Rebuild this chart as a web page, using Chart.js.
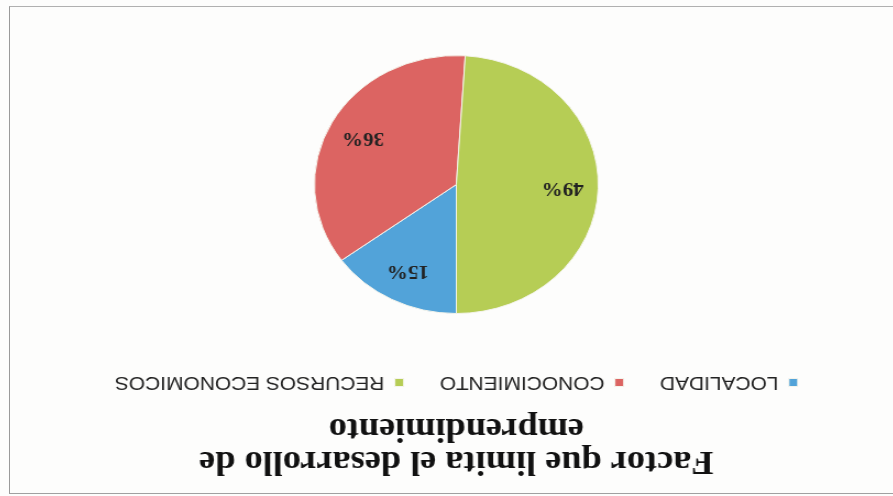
<!DOCTYPE html>
<html>
<head>
<meta charset="utf-8">
<script src="https://cdn.jsdelivr.net/npm/chart.js@4"></script>
<style>
  body { margin: 0; background: #fdfdfc; }
  #page { position: relative; width: 893px; height: 496px; overflow: hidden; }
  #frame {
    position: absolute; left: 9px; top: 6px; width: 900px; height: 486px;
    border-left: 1px solid #9a9a9a; border-top: 1px solid #b0b0b0; border-bottom: 1px solid #a0a0a0;
  }
  /* the scanned chart is upside down and a bit stretched */
  #factorChart {
    position: absolute; left: 0; top: 0;
    transform: rotate(180deg) scaleX(1.1);
    transform-origin: 446.5px 248px;
  }
</style>
</head>
<body>
<div id="page">
  <div id="frame"></div>
  <canvas id="factorChart" width="893" height="496"></canvas>
</div>
<script>
const labels = ["LOCALIDAD", "CONOCIMIENTO", "RECURSOS ECONOMICOS"];
const values = [15, 36, 49];
const colors = ["#52a3d9", "#dc6462", "#b6cd55"];
const titleLines = ["Factor que limita el desarrollo de", "emprendimiento"];

const percentLabels = {
  id: "percentLabels",
  afterDatasetsDraw(chart) {
    const ctx = chart.ctx;
    const meta = chart.getDatasetMeta(0);
    ctx.save();
    ctx.font = "bold 19px 'Liberation Serif'";
    ctx.fillStyle = "#222";
    ctx.textAlign = "center";
    ctx.textBaseline = "middle";
    meta.data.forEach((arc, i) => {
      const mid = (arc.startAngle + arc.endAngle) / 2;
      const r = arc.outerRadius * 0.75;
      ctx.fillText(values[i] + "%", arc.x + Math.cos(mid) * r, arc.y + Math.sin(mid) * r);
    });
    ctx.restore();
  },
};

const factorChart = new Chart(document.getElementById("factorChart"), {
  type: "pie",
  data: {
    labels: labels,
    datasets: [
      {
        data: values,
        backgroundColor: colors,
        borderColor: "#f4f4ec",
        borderWidth: 1,
        radius: 129,
      },
    ],
  },
  options: {
    responsive: false,
    animation: false,
    devicePixelRatio: 1,
    layout: { padding: { left: 0, right: 18, top: 0, bottom: 6 } },
    plugins: {
      tooltip: { enabled: false },
      title: {
        display: true,
        text: titleLines,
        color: "#111",
        font: { family: "'Liberation Serif'", size: 33, weight: "bold", lineHeight: 1.0 },
        padding: { top: 19, bottom: -14 },
      },
      legend: {
        position: "top",
        labels: {
          color: "#222",
          font: { family: "'Liberation Sans'", size: 19 },
          boxWidth: 8,
          boxHeight: 8,
          padding: 33,
        },
      },
    },
  },
  plugins: [percentLabels],
});
</script>
</body>
</html>
